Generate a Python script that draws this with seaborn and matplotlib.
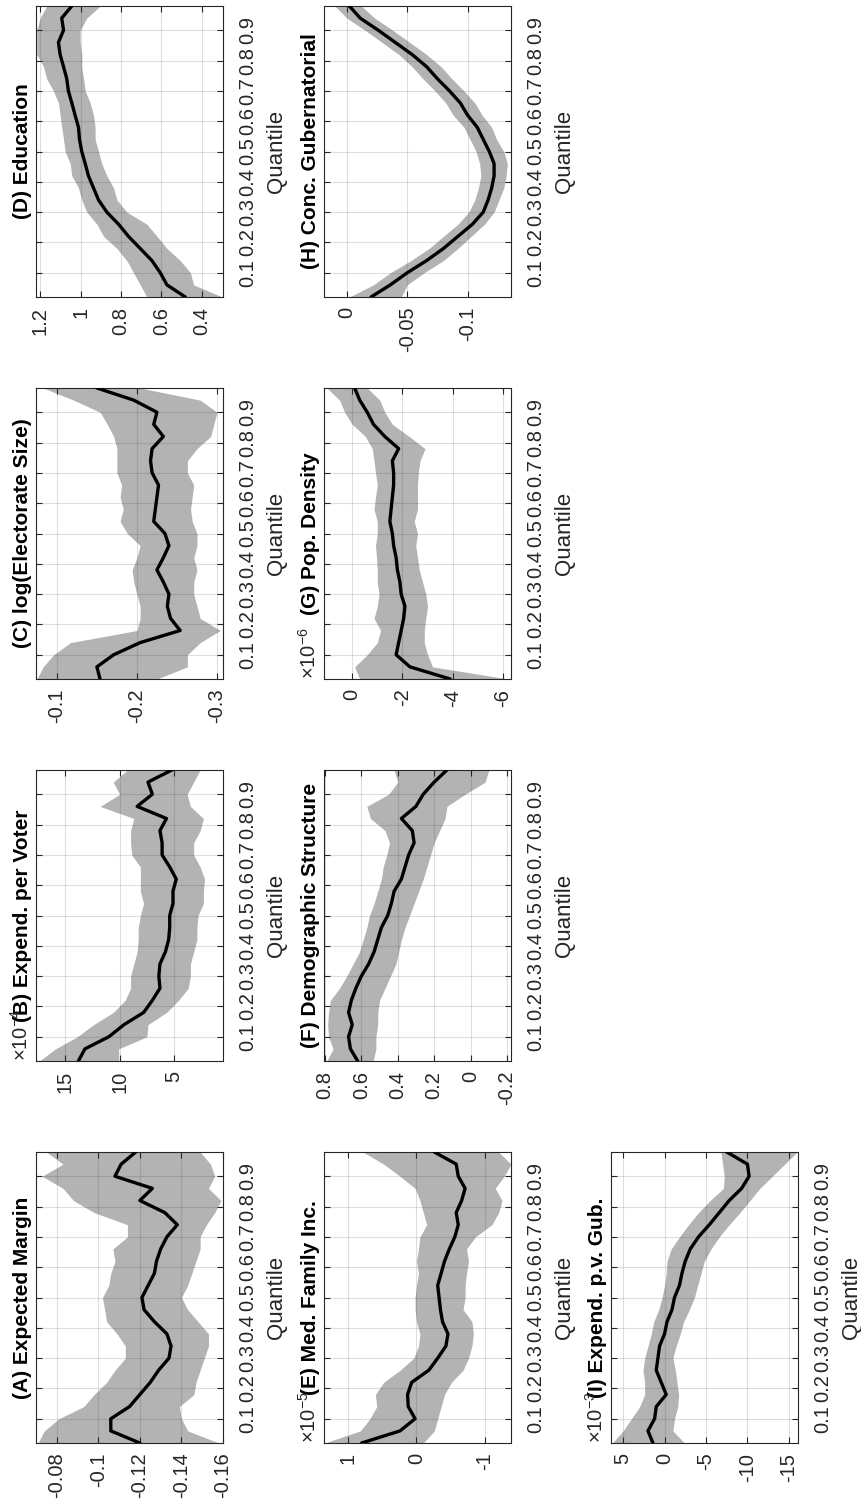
import matplotlib
matplotlib.use("Agg")
import matplotlib.pyplot as plt
import seaborn as sns

sns.set_theme(style="white")
plt.rcParams['font.family'] = ['Liberation Sans', 'DejaVu Sans']
plt.rcParams['mathtext.fontset'] = 'custom'
plt.rcParams['mathtext.rm'] = 'Liberation Sans'
plt.rcParams['mathtext.it'] = 'Liberation Sans:italic'
plt.rcParams['axes.unicode_minus'] = False

# quantile grid (shared by all panels)
quantiles = [0.02, 0.06, 0.10, 0.14, 0.18, 0.22, 0.26, 0.30, 0.34, 0.38, 0.42, 0.46, 0.50,
             0.54, 0.58, 0.62, 0.66, 0.70, 0.74, 0.78, 0.82, 0.86, 0.90, 0.94, 0.98]
quantile_ticks = [0.1, 0.2, 0.3, 0.4, 0.5, 0.6, 0.7, 0.8, 0.9]
quantile_labels = ['0.1', '0.2', '0.3', '0.4', '0.5', '0.6', '0.7', '0.8', '0.9']

# (A) Expected Margin
a_mean = [-0.120, -0.106, -0.106, -0.115, -0.120, -0.125, -0.129, -0.134, -0.135, -0.133, -0.127, -0.122, -0.121,
          -0.124, -0.127, -0.128, -0.130, -0.133, -0.138, -0.132, -0.120, -0.126, -0.108, -0.111, -0.118]
a_hi = [-0.071, -0.074, -0.081, -0.093, -0.098, -0.104, -0.108, -0.113, -0.113, -0.109, -0.104, -0.103, -0.102,
        -0.105, -0.106, -0.108, -0.107, -0.114, -0.114, -0.098, -0.088, -0.083, -0.073, -0.083, -0.075]
a_lo = [-0.158, -0.143, -0.140, -0.139, -0.146, -0.147, -0.149, -0.151, -0.153, -0.153, -0.148, -0.143, -0.140,
        -0.143, -0.145, -0.147, -0.149, -0.149, -0.152, -0.156, -0.159, -0.153, -0.156, -0.154, -0.149]
a_ticks = [-0.16, -0.14, -0.12, -0.1, -0.08]
a_labels = ['-0.16', '-0.14', '-0.12', '-0.1', '-0.08']

# (B) Expend. per Voter (x 10^-4)
b_mean = [13.8, 13.2, 11.0, 9.6, 7.8, 7.0, 6.3, 6.4, 6.3, 5.8, 5.5, 5.4, 5.4,
          5.1, 5.1, 4.8, 5.4, 6.1, 6.1, 6.3, 5.7, 8.4, 7.0, 7.4, 5.2]
b_hi = [17.4, 15.9, 13.9, 12.4, 10.6, 9.5, 9.0, 9.0, 8.7, 8.4, 8.3, 8.3, 8.1,
        7.8, 8.1, 8.1, 8.1, 8.9, 9.0, 9.0, 8.7, 11.8, 10.0, 10.6, 9.3]
b_lo = [10.1, 10.1, 7.5, 7.4, 5.7, 4.6, 3.7, 3.5, 3.5, 3.2, 2.9, 2.9, 2.8,
        2.3, 2.3, 2.2, 2.6, 3.2, 3.2, 2.6, 2.3, 3.5, 3.8, 3.2, 2.6]
b_ticks = [5, 10, 15]
b_labels = ['5', '10', '15']

# (C) log(Electorate Size)
c_mean = [-0.154, -0.150, -0.171, -0.204, -0.254, -0.242, -0.238, -0.240, -0.233, -0.225, -0.233, -0.240, -0.235,
          -0.221, -0.223, -0.225, -0.227, -0.219, -0.217, -0.219, -0.233, -0.221, -0.225, -0.196, -0.150]
c_hi = [-0.075, -0.083, -0.096, -0.117, -0.200, -0.204, -0.204, -0.200, -0.196, -0.194, -0.200, -0.204, -0.188,
        -0.179, -0.183, -0.179, -0.181, -0.175, -0.175, -0.175, -0.171, -0.163, -0.154, -0.121, -0.083]
c_lo = [-0.225, -0.263, -0.263, -0.279, -0.304, -0.279, -0.275, -0.271, -0.271, -0.275, -0.271, -0.275, -0.275,
        -0.269, -0.267, -0.269, -0.271, -0.263, -0.263, -0.275, -0.292, -0.296, -0.300, -0.279, -0.204]
c_ticks = [-0.3, -0.2, -0.1]
c_labels = ['-0.3', '-0.2', '-0.1']

# (D) Education
d_mean = [0.482, 0.573, 0.606, 0.647, 0.705, 0.763, 0.812, 0.870, 0.911, 0.936, 0.961, 0.977, 0.994,
          1.005, 1.010, 1.027, 1.043, 1.060, 1.068, 1.084, 1.101, 1.109, 1.084, 1.093, 1.043]
d_hi = [0.672, 0.705, 0.738, 0.771, 0.820, 0.886, 0.919, 0.969, 0.994, 1.010, 1.043, 1.051, 1.076,
        1.084, 1.093, 1.101, 1.109, 1.134, 1.167, 1.183, 1.216, 1.216, 1.216, 1.200, 1.167]
d_lo = [0.300, 0.441, 0.457, 0.507, 0.573, 0.622, 0.672, 0.771, 0.820, 0.837, 0.870, 0.895, 0.911,
        0.928, 0.928, 0.936, 0.952, 0.977, 0.985, 0.994, 0.994, 1.002, 1.002, 0.969, 0.903]
d_ticks = [0.4, 0.6, 0.8, 1.0, 1.2]
d_labels = ['0.4', '0.6', '0.8', '1', '1.2']

# (E) Med. Family Inc. (x 10^-5)
e_mean = [0.80, 0.24, 0.02, 0.12, 0.13, 0.07, -0.18, -0.31, -0.43, -0.46, -0.38, -0.35, -0.33,
          -0.31, -0.36, -0.41, -0.48, -0.56, -0.61, -0.58, -0.66, -0.71, -0.61, -0.58, -0.26]
e_hi = [1.34, 0.82, 0.68, 0.58, 0.60, 0.48, 0.24, 0.04, -0.03, -0.05, 0.00, 0.02, 0.02,
        0.00, -0.03, 0.00, -0.03, -0.05, -0.15, -0.10, -0.05, 0.02, 0.24, 0.48, 0.78]
e_lo = [-0.10, -0.26, -0.31, -0.36, -0.41, -0.51, -0.68, -0.76, -0.81, -0.83, -0.81, -0.68, -0.71,
        -0.71, -0.73, -0.76, -0.73, -0.86, -1.10, -1.20, -1.25, -1.15, -1.28, -1.38, -1.20]
e_ticks = [-1, 0, 1]
e_labels = ['-1', '0', '1']

# (F) Demographic Structure
f_mean = [0.62, 0.66, 0.67, 0.65, 0.67, 0.655, 0.63, 0.60, 0.56, 0.53, 0.51, 0.49, 0.455,
          0.435, 0.42, 0.38, 0.36, 0.34, 0.31, 0.32, 0.38, 0.30, 0.26, 0.20, 0.13]
f_hi = [0.79, 0.755, 0.78, 0.785, 0.78, 0.77, 0.72, 0.68, 0.645, 0.61, 0.59, 0.57, 0.555,
        0.53, 0.51, 0.49, 0.48, 0.46, 0.445, 0.47, 0.55, 0.57, 0.45, 0.40, 0.42]
f_lo = [0.535, 0.52, 0.52, 0.51, 0.51, 0.50, 0.47, 0.44, 0.41, 0.395, 0.38, 0.36, 0.335,
        0.31, 0.285, 0.26, 0.24, 0.22, 0.20, 0.17, 0.14, 0.13, 0.03, -0.08, -0.10]
f_ticks = [-0.2, 0.0, 0.2, 0.4, 0.6, 0.8]
f_labels = ['-0.2', '0', '0.2', '0.4', '0.6', '0.8']

# (G) Pop. Density (x 10^-6)
g_mean = [-3.9, -2.3, -1.75, -1.85, -1.95, -2.05, -2.1, -1.95, -1.9, -1.8, -1.75, -1.65, -1.6,
          -1.5, -1.55, -1.6, -1.65, -1.65, -1.6, -1.85, -1.3, -0.85, -0.6, -0.3, -0.1]
g_hi = [-0.3, -0.1, -0.6, -1.0, -1.13, -0.87, -1.0, -1.07, -1.0, -1.0, -0.97, -0.93, -1.0,
        -1.0, -0.87, -0.93, -1.0, -0.93, -0.87, -0.8, -0.53, 0.0, 0.3, 0.5, 1.0]
g_lo = [-6.2, -3.2, -3.0, -2.87, -2.87, -2.93, -3.0, -2.93, -2.8, -2.67, -2.6, -2.53, -2.6,
        -2.47, -2.6, -2.6, -2.6, -2.63, -2.7, -2.9, -2.27, -1.6, -1.3, -1.1, -0.6]
g_ticks = [-6, -4, -2, 0]
g_labels = ['-6', '-4', '-2', '0']

# (H) Conc. Gubernatorial
h_mean = [-0.020, -0.036, -0.050, -0.066, -0.080, -0.092, -0.104, -0.113, -0.117, -0.120, -0.122, -0.122, -0.118,
          -0.113, -0.108, -0.100, -0.094, -0.085, -0.075, -0.066, -0.054, -0.040, -0.026, -0.011, -0.002]
h_hi = [-0.002, -0.022, -0.036, -0.053, -0.068, -0.080, -0.092, -0.101, -0.106, -0.109, -0.111, -0.110, -0.107,
        -0.102, -0.097, -0.088, -0.082, -0.073, -0.063, -0.054, -0.043, -0.029, -0.015, 0.000, 0.010]
h_lo = [-0.045, -0.050, -0.064, -0.080, -0.092, -0.103, -0.114, -0.122, -0.126, -0.130, -0.132, -0.133, -0.130,
        -0.124, -0.120, -0.112, -0.106, -0.097, -0.087, -0.078, -0.066, -0.052, -0.038, -0.023, -0.012]
h_ticks = [-0.1, -0.05, 0.0]
h_labels = ['-0.1', '-0.05', '0']

# (I) Expend. p.v. Gub. (x 10^-3)
i_mean = [1.4, 2.0, 1.2, 1.0, -0.2, 0.4, 1.0, 0.8, 0.6, 0.0, -0.3, -0.9, -1.2,
          -1.8, -2.1, -2.5, -3.1, -4.1, -5.4, -6.6, -7.8, -9.3, -10.2, -10.0, -7.5]
i_hi = [6.3, 5.0, 4.0, 3.0, 2.4, 2.4, 2.6, 2.4, 2.0, 1.6, 1.3, 0.7, 0.3,
        0.0, -0.2, -0.3, -0.8, -1.8, -2.9, -4.1, -5.5, -7.1, -7.2, -7.0, -6.8]
i_lo = [-2.4, -1.0, -1.2, -1.6, -1.7, -1.5, -1.3, -1.0, -1.4, -1.9, -2.3, -3.0, -3.6,
        -4.0, -4.4, -4.8, -5.6, -6.6, -7.8, -9.1, -10.3, -11.5, -13.0, -14.5, -16.0]
i_ticks = [-15, -10, -5, 0, 5]
i_labels = ['-15', '-10', '-5', '0', '5']

panels = [
    dict(title='(A) Expected Margin', mean=a_mean, lo=a_lo, hi=a_hi, lim=(-0.07, -0.16),
         ticks=a_ticks, labels=a_labels, exp=None, row=0, col=0),
    dict(title='(B) Expend. per Voter', mean=b_mean, lo=b_lo, hi=b_hi, lim=(17.7, 0.5),
         ticks=b_ticks, labels=b_labels, exp='-4', row=0, col=1),
    dict(title='(C) log(Electorate Size)', mean=c_mean, lo=c_lo, hi=c_hi, lim=(-0.074, -0.3075),
         ticks=c_ticks, labels=c_labels, exp=None, row=0, col=2),
    dict(title='(D) Education', mean=d_mean, lo=d_lo, hi=d_hi, lim=(1.22, 0.296),
         ticks=d_ticks, labels=d_labels, exp=None, row=0, col=3),
    dict(title='(E) Med. Family Inc.', mean=e_mean, lo=e_lo, hi=e_hi, lim=(1.35, -1.38),
         ticks=e_ticks, labels=e_labels, exp='-5', row=1, col=0),
    dict(title='(F) Demographic Structure', mean=f_mean, lo=f_lo, hi=f_hi, lim=(0.805, -0.222),
         ticks=f_ticks, labels=f_labels, exp=None, row=1, col=1),
    dict(title='(G) Pop. Density', mean=g_mean, lo=g_lo, hi=g_hi, lim=(1.12, -6.32),
         ticks=g_ticks, labels=g_labels, exp='-6', row=1, col=2),
    dict(title='(H) Conc. Gubernatorial', mean=h_mean, lo=h_lo, hi=h_hi, lim=(0.019, -0.136),
         ticks=h_ticks, labels=h_labels, exp=None, row=1, col=3),
    dict(title='(I) Expend. p.v. Gub.', mean=i_mean, lo=i_lo, hi=i_hi, lim=(6.46, -16.1),
         ticks=i_ticks, labels=i_labels, exp='-3', row=2, col=0),
]

# figure is drawn turned on its side (landscape page rotated 90 deg)
W, H = 862, 1508
fig = plt.figure(figsize=(W / 100, H / 100), dpi=100)
row_x = [36, 324, 611]
col_bottom = [1443, 1061, 679, 297]
ax_w, ax_h = 187, 291
dark = '#262626'

for p in panels:
    ax = fig.add_axes([row_x[p['row']] / W, (H - col_bottom[p['col']]) / H, ax_w / W, ax_h / H])
    ax.fill_betweenx(quantiles, p['lo'], p['hi'], color='#b3b3b3', lw=0, zorder=1)
    sns.lineplot(x=p['mean'], y=quantiles, orient='y', ax=ax, color='black', lw=2.4, zorder=3)

    ax.set_xlim(p['lim'])
    ax.set_ylim(0.02, 0.98)
    ax.set_xticks(p['ticks'])
    ax.set_xticklabels(p['labels'], rotation=90, ha='center', va='top')
    ax.set_yticks(quantile_ticks)
    ax.set_yticklabels(quantile_labels, rotation=90, va='center')
    ax.tick_params(axis='both', direction='in', length=4, width=0.8, colors=dark, labelsize=14.5,
                   top=True, bottom=True, left=True, right=True)
    ax.tick_params(axis='y', labelleft=False, labelright=True, pad=11)
    ax.tick_params(axis='x', pad=7)
    ax.yaxis.set_label_position('right')
    ax.set_ylabel('Quantile', fontsize=16, color=dark, rotation=90, labelpad=6)
    ax.set_xlabel('')

    ax.grid(True, color=dark, alpha=0.15, lw=0.8)
    ax.set_axisbelow(False)
    for s in ax.spines.values():
        s.set_color(dark)
        s.set_linewidth(0.8)

    ax.text(-4 / ax_w, 0.5, p['title'], transform=ax.transAxes, rotation=90,
            ha='right', va='center', fontsize=15, fontweight='bold', color='black')
    if p['exp'] is not None:
        ax.text(-4 / ax_w, 0.0, '×10$^{' + p['exp'] + '}$', transform=ax.transAxes, rotation=90,
                ha='right', va='bottom', fontsize=14.5, color=dark)

fig.savefig('out.png', dpi=100)
